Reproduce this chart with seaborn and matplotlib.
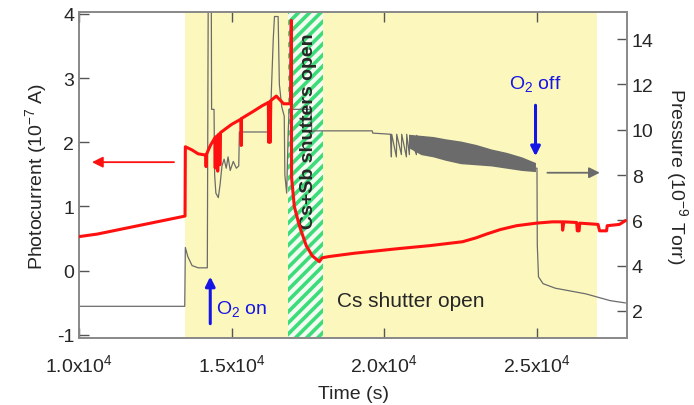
import numpy as np
import pandas as pd
import seaborn as sns
import matplotlib.pyplot as plt

# time axis ticks
xticks = [10000, 15000, 20000, 25000]
xtick_labels = [r"1.0x10$^{4}$", r"1.5x10$^{4}$", r"2.0x10$^{4}$", r"2.5x10$^{4}$"]

# photocurrent (1e-7 A), left axis
t_current = [10000, 10600, 13470, 13480, 13700, 13900, 14150, 14160, 14170, 14300,
             14450, 14460, 14470, 14530, 14540, 14560, 14600, 14610, 14630, 15000,
             15300, 15310, 15320, 15700, 16000, 16200, 16210, 16230, 16260, 16280,
             16460, 16560, 16700, 16930, 16950, 16960, 17050, 17215, 17440, 17640,
             17870, 17960, 18200, 19000, 20400, 21500, 22560, 23000, 23350, 23800,
             24330, 24985, 25500, 25830, 25840, 25880, 26300, 26320, 26380, 26400,
             27000, 27050, 27280, 27300, 27700, 27900]
current = [0.53, 0.57, 0.85, 1.93, 1.88, 1.82, 1.80, 1.62, 1.81, 1.95,
           2.07, 1.60, 2.08, 2.10, 1.55, 2.12, 2.13, 1.65, 2.15, 2.28,
           2.36, 1.95, 2.37, 2.48, 2.57, 2.62, 2.00, 2.63, 2.00, 2.65,
           2.72, 2.67, 2.60, 2.60, 3.90, 1.45, 1.00, 0.70, 0.39, 0.23,
           0.14, 0.20, 0.22, 0.27, 0.34, 0.39, 0.45, 0.51, 0.57, 0.64,
           0.70, 0.74, 0.76, 0.76, 0.63, 0.76, 0.75, 0.62, 0.62, 0.74,
           0.72, 0.62, 0.62, 0.70, 0.72, 0.78]

# pressure (1e-9 Torr), right axis
t_pressure = [10000, 13460, 13480, 13560, 13700, 13900, 14200, 14230, 14330, 14340,
              14420, 14440, 14480, 14560, 14620, 14680, 14750, 14820, 14880, 14950,
              15050, 15150, 15230, 15250, 16230, 16280, 16360, 16400, 16520, 16560,
              16640, 16720, 16740, 16800, 16850, 16880, 17600, 17620, 17700, 19600,
              19620, 20200, 20230, 20240, 20394, 20404, 20558, 20568, 20722, 20732,
              20820, 20830, 21050, 21060, 21247, 21257, 21800, 22500, 23200, 24000,
              24600, 24950, 25000, 25010, 25050, 25200, 25600, 26200, 26600, 27000,
              27400, 27900]
pressure = [2.2, 2.2, 4.8, 4.4, 4.0, 3.9, 3.9, 16.0, 16.0, 10.9,
            10.9, 8.0, 7.2, 7.0, 7.6, 8.4, 8.7, 8.3, 8.8, 8.2,
            8.6, 8.3, 8.4, 9.9, 9.9, 11.0, 14.0, 15.0, 15.0, 12.0,
            11.0, 10.6, 8.0, 7.2, 9.9, 10.9, 10.9, 9.9, 9.95, 9.95,
            9.85, 9.8, 8.8, 9.8, 8.8, 9.8, 8.9, 9.8, 8.8, 9.8,
            8.9, 9.75, 8.9, 9.75, 9.0, 9.7, 9.2, 9.0, 8.8, 8.6,
            8.45, 8.3, 8.3, 4.9, 3.5, 3.2, 3.0, 2.85, 2.75, 2.6,
            2.45, 2.35]

# dense noise band on the pressure trace
band_t = [20800, 21200, 21600, 22000, 22500, 23000, 23500, 24000, 24500, 24950]
band_hi = [9.8, 9.75, 9.7, 9.6, 9.5, 9.35, 9.15, 9.0, 8.8, 8.55]
band_lo = [9.2, 8.9, 8.8, 8.65, 8.5, 8.45, 8.4, 8.3, 8.2, 8.15]

# shaded periods
cs_period = (13480, 26950)
cssb_period = (16850, 18000)

sns.set_theme(style="ticks")
plt.rcParams["font.family"] = ["Liberation Sans", "DejaVu Sans"]
plt.rcParams["mathtext.fontset"] = "custom"
plt.rcParams["mathtext.rm"] = "Liberation Sans"
plt.rcParams["mathtext.it"] = "Liberation Sans:italic"
plt.rcParams["mathtext.bf"] = "Liberation Sans:bold"
plt.rcParams["axes.unicode_minus"] = False
plt.rcParams["hatch.linewidth"] = 2.6

fig, ax = plt.subplots(figsize=(6.94, 4.06), dpi=100)
fig.subplots_adjust(left=0.114, right=0.9035, bottom=0.165, top=0.968)
ax2 = ax.twinx()
ax.set_zorder(ax2.get_zorder() + 1)
ax.patch.set_visible(False)

# background periods (on the lower axes)
ax2.axvspan(*cs_period, color="#fcf8bd", lw=0, zorder=0)
ax2.axvspan(*cssb_period, facecolor="#f4fbf0", edgecolor="#3ddc7a", hatch="///", lw=0, zorder=1)

df_p = pd.DataFrame({"t": t_pressure, "p": pressure})
sns.lineplot(data=df_p, x="t", y="p", ax=ax2, estimator=None, sort=False,
             color="#6b6b6b", lw=0.9, zorder=3)
ax2.fill_between(band_t, band_lo, band_hi, color="#6b6b6b", lw=0, zorder=3)

df_c = pd.DataFrame({"t": t_current, "i": current})
sns.lineplot(data=df_c, x="t", y="i", ax=ax, estimator=None, sort=False,
             color="#ff1010", lw=2.2, zorder=4)

ax.set_xlim(10000, 27950)
ax.set_ylim(-1.05, 4.03)
ax2.set_ylim(0.8, 15.2)
ax.set_xticks(xticks)
ax.set_xticklabels(xtick_labels)
ax.set_yticks([-1, 0, 1, 2, 3, 4])
ax2.set_yticks([2, 4, 6, 8, 10, 12, 14])

ax.set_xlabel("Time (s)", fontsize=14, labelpad=7)
ax.set_ylabel(r"Photocurrent (10$^{-7}$ A)", fontsize=14, labelpad=6)
ax2.set_ylabel(r"Pressure (10$^{-9}$ Torr)", fontsize=14, rotation=270, labelpad=26)

for a in (ax, ax2):
    for s in a.spines.values():
        s.set_color("#8a8a8a")
        s.set_linewidth(1.3)
ax.tick_params(axis="both", direction="in", length=7, width=1, color="#555555",
               labelsize=14, top=True)
ax.tick_params(axis="x", pad=11)
ax2.tick_params(axis="y", direction="in", length=7, width=1, color="#555555",
                labelsize=14)

# annotations
ax.annotate("", xy=(10330, 1.69), xytext=(13200, 1.69),
            arrowprops=dict(arrowstyle="-|>", color="#ff1010", lw=1.3,
                            mutation_scale=16))
ax2.annotate("", xy=(27150, 8.1), xytext=(25250, 8.1),
             arrowprops=dict(arrowstyle="-|>", color="#6b6b6b", lw=1.3,
                             mutation_scale=16))
ax.annotate("", xy=(14296, -0.05), xytext=(14296, -0.87),
            arrowprops=dict(arrowstyle="-|>", color="#1515e6", lw=2.2,
                            mutation_scale=14))
ax.annotate("", xy=(24952, 1.74), xytext=(24952, 2.62),
            arrowprops=dict(arrowstyle="-|>", color="#1515e6", lw=2.2,
                            mutation_scale=14))
ax.text(15312, -0.59, r"O$_2$ on", color="#1515e6", fontsize=14,
        ha="center", va="center")
ax.text(24952, 2.93, r"O$_2$ off", color="#1515e6", fontsize=14,
        ha="center", va="center")
ax.text(20854, -0.47, "Cs shutter open", fontsize=15, ha="center", va="center")
ax.text(17509, 2.19, "Cs+Sb shutters open", fontsize=14, fontweight="bold",
        ha="center", va="center", rotation=90)

plt.savefig("out.png", dpi=100)
